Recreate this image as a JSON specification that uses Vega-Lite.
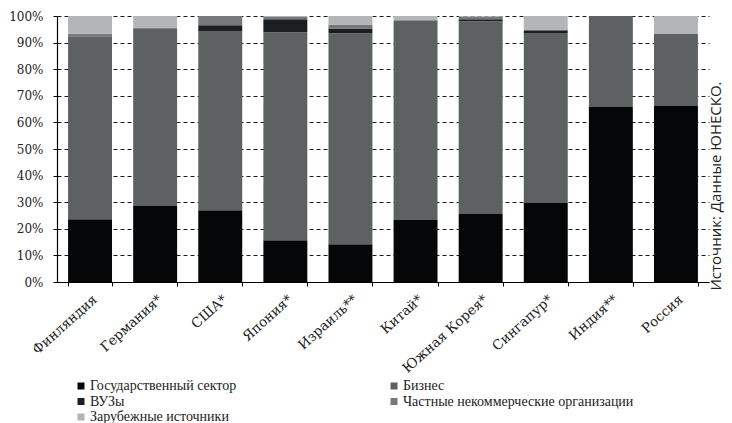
{
  "$schema": "https://vega.github.io/schema/vega-lite/v6.json",
  "autosize": {"type": "none"},
  "padding": {"left": 57, "top": 16, "right": 23, "bottom": 141},
  "width": 652,
  "height": 266,
  "background": "white",
  "title": {
    "text": "Источник: Данные ЮНЕСКО.",
    "orient": "right",
    "angle": 270,
    "anchor": "middle",
    "baseline": "middle",
    "font": "Open Sans",
    "fontSize": 15,
    "fontWeight": "normal",
    "color": "#222222",
    "offset": -8,
    "dx": -37
  },
  "data": {
    "values": [
      {"country": "Финляндия", "sector": "Государственный сектор", "ord": 1, "value": 23.6},
      {"country": "Финляндия", "sector": "Бизнес", "ord": 2, "value": 68.5},
      {"country": "Финляндия", "sector": "ВУЗы", "ord": 3, "value": 0.2},
      {"country": "Финляндия", "sector": "Частные некоммерческие организации", "ord": 4, "value": 1.0},
      {"country": "Финляндия", "sector": "Зарубежные источники", "ord": 5, "value": 6.7},
      {"country": "Германия*", "sector": "Государственный сектор", "ord": 1, "value": 28.6},
      {"country": "Германия*", "sector": "Бизнес", "ord": 2, "value": 66.8},
      {"country": "Германия*", "sector": "ВУЗы", "ord": 3, "value": 0},
      {"country": "Германия*", "sector": "Частные некоммерческие организации", "ord": 4, "value": 0.3},
      {"country": "Германия*", "sector": "Зарубежные источники", "ord": 5, "value": 4.3},
      {"country": "США*", "sector": "Государственный сектор", "ord": 1, "value": 27.0},
      {"country": "США*", "sector": "Бизнес", "ord": 2, "value": 67.2},
      {"country": "США*", "sector": "ВУЗы", "ord": 3, "value": 2.3},
      {"country": "США*", "sector": "Частные некоммерческие организации", "ord": 4, "value": 3.5},
      {"country": "США*", "sector": "Зарубежные источники", "ord": 5, "value": 0},
      {"country": "Япония*", "sector": "Государственный сектор", "ord": 1, "value": 15.7},
      {"country": "Япония*", "sector": "Бизнес", "ord": 2, "value": 78.2},
      {"country": "Япония*", "sector": "ВУЗы", "ord": 3, "value": 4.9},
      {"country": "Япония*", "sector": "Частные некоммерческие организации", "ord": 4, "value": 0.8},
      {"country": "Япония*", "sector": "Зарубежные источники", "ord": 5, "value": 0.4},
      {"country": "Израиль**", "sector": "Государственный сектор", "ord": 1, "value": 14.2},
      {"country": "Израиль**", "sector": "Бизнес", "ord": 2, "value": 79.3},
      {"country": "Израиль**", "sector": "ВУЗы", "ord": 3, "value": 1.8},
      {"country": "Израиль**", "sector": "Частные некоммерческие организации", "ord": 4, "value": 1.5},
      {"country": "Израиль**", "sector": "Зарубежные источники", "ord": 5, "value": 3.2},
      {"country": "Китай*", "sector": "Государственный сектор", "ord": 1, "value": 23.3},
      {"country": "Китай*", "sector": "Бизнес", "ord": 2, "value": 75.1},
      {"country": "Китай*", "sector": "ВУЗы", "ord": 3, "value": 0},
      {"country": "Китай*", "sector": "Частные некоммерческие организации", "ord": 4, "value": 0},
      {"country": "Китай*", "sector": "Зарубежные источники", "ord": 5, "value": 1.6},
      {"country": "Южная Корея*", "sector": "Государственный сектор", "ord": 1, "value": 25.6},
      {"country": "Южная Корея*", "sector": "Бизнес", "ord": 2, "value": 72.4},
      {"country": "Южная Корея*", "sector": "ВУЗы", "ord": 3, "value": 0.8},
      {"country": "Южная Корея*", "sector": "Частные некоммерческие организации", "ord": 4, "value": 0.9},
      {"country": "Южная Корея*", "sector": "Зарубежные источники", "ord": 5, "value": 0.3},
      {"country": "Сингапур*", "sector": "Государственный сектор", "ord": 1, "value": 29.7},
      {"country": "Сингапур*", "sector": "Бизнес", "ord": 2, "value": 63.9},
      {"country": "Сингапур*", "sector": "ВУЗы", "ord": 3, "value": 1.0},
      {"country": "Сингапур*", "sector": "Частные некоммерческие организации", "ord": 4, "value": 0},
      {"country": "Сингапур*", "sector": "Зарубежные источники", "ord": 5, "value": 5.4},
      {"country": "Индия**", "sector": "Государственный сектор", "ord": 1, "value": 65.8},
      {"country": "Индия**", "sector": "Бизнес", "ord": 2, "value": 34.2},
      {"country": "Индия**", "sector": "ВУЗы", "ord": 3, "value": 0},
      {"country": "Индия**", "sector": "Частные некоммерческие организации", "ord": 4, "value": 0},
      {"country": "Индия**", "sector": "Зарубежные источники", "ord": 5, "value": 0},
      {"country": "Россия", "sector": "Государственный сектор", "ord": 1, "value": 66.2},
      {"country": "Россия", "sector": "Бизнес", "ord": 2, "value": 27.0},
      {"country": "Россия", "sector": "ВУЗы", "ord": 3, "value": 0},
      {"country": "Россия", "sector": "Частные некоммерческие организации", "ord": 4, "value": 0},
      {"country": "Россия", "sector": "Зарубежные источники", "ord": 5, "value": 6.8}
    ]
  },
  "mark": {"type": "bar"},
  "encoding": {
    "x": {
      "field": "country",
      "type": "nominal",
      "sort": null,
      "title": null,
      "scale": {"paddingInner": 0.325, "paddingOuter": 0.17},
      "axis": {
        "labelAngle": -42,
        "labelAlign": "right",
        "labelBaseline": "top",
        "labelFont": "DejaVu Serif",
        "labelFontSize": 13.5,
        "labelColor": "#222222",
        "labelPadding": 6,
        "tickBand": "extent",
        "tickSize": 4,
        "tickColor": "#000000",
        "domainColor": "#000000",
        "domainWidth": 1.2,
        "grid": false
      }
    },
    "y": {
      "field": "value",
      "type": "quantitative",
      "stack": "zero",
      "title": null,
      "scale": {"domain": [0, 100], "nice": false},
      "axis": {
        "values": [0, 10, 20, 30, 40, 50, 60, 70, 80, 90, 100],
        "labelExpr": "datum.value + '%'",
        "labelFont": "DejaVu Serif",
        "labelFontSize": 12,
        "labelColor": "#222222",
        "labelPadding": 10,
        "tickSize": 4,
        "tickColor": "#000000",
        "domainColor": "#000000",
        "domainWidth": 1.2,
        "grid": true,
        "gridColor": "#1a1a1a",
        "gridDash": [4, 3],
        "gridWidth": 1.2
      }
    },
    "color": {
      "field": "sector",
      "type": "nominal",
      "scale": {
        "domain": ["Государственный сектор", "ВУЗы", "Зарубежные источники", "Бизнес", "Частные некоммерческие организации"],
        "range": ["#050608", "#1c1f21", "#b4b5b6", "#5e6162", "#767879"]
      },
      "legend": {
        "title": null,
        "orient": "none",
        "legendX": 17,
        "legendY": 363,
        "columns": 2,
        "columnPadding": 150,
        "rowPadding": 1.5,
        "symbolType": "square",
        "symbolSize": 49,
        "symbolStrokeWidth": 0,
        "symbolOffset": 0,
        "labelOffset": 2,
        "labelFont": "Liberation Serif",
        "labelFontSize": 14,
        "labelColor": "#222222",
        "labelLimit": 400,
        "padding": 0
      }
    },
    "order": {"field": "ord", "type": "quantitative"}
  },
  "config": {
    "view": {"stroke": null}
  }
}
